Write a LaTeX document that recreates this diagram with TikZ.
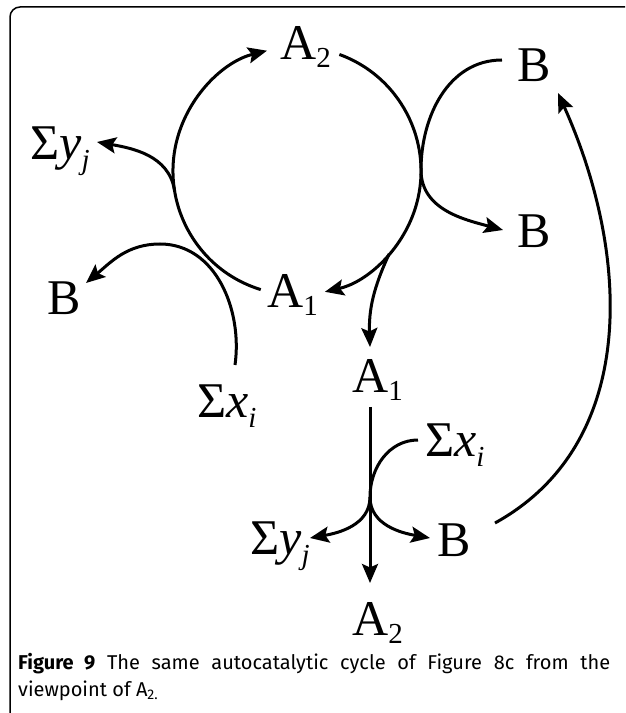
\documentclass[tikz,border=0pt]{standalone}
\usepackage{fontspec}
\setmainfont{Liberation Serif}
\newfontfamily\capfont{Fira Sans}
\usepackage{tikz}
\usetikzlibrary{arrows.meta}

\newcommand{\lo}[1]{\raisebox{-8pt}{\fontsize{29}{29}\selectfont #1}}
\newcommand{\loit}[1]{\raisebox{-10pt}{\fontsize{29}{29}\selectfont\itshape #1}}

\begin{document}
\begin{tikzpicture}[x=1pt,y=1pt,
  lbl/.style={inner sep=0pt, anchor=base west, font=\fontsize{50}{50}\selectfont},
  flow/.style={line width=3pt, -{Stealth[length=19pt,width=16pt,inset=3.5pt]}},
  plain/.style={line width=3pt}]
  \useasboundingbox (0,0) rectangle (625,713);
  \clip (0,0) rectangle (625,713);
  \draw[line width=1.5pt, rounded corners=10pt] (10,-20) rectangle (660,706);

  \node[lbl] (a2top) at (280,653) {A\lo{2}};
  \node[lbl] (btop) at (517,631) {B};
  \node[lbl] (bright) at (517,465) {B};
  \node[lbl] (syleft) at (30,553) {Σ\textit{y}\loit{j}};
  \node[lbl] (bleft) at (47,398) {B};
  \node[lbl] (a1left) at (267,405) {A\lo{1}};
  \node[lbl] (sxleft) at (197,295) {Σ\textit{x}\loit{i}};
  \node[lbl] (a1mid) at (352,320) {A\lo{1}};
  \node[lbl] (sxmid) at (425,256) {Σ\textit{x}\loit{i}};
  \node[lbl] (symid) at (250,158) {Σ\textit{y}\loit{j}};
  \node[lbl] (bmid) at (437,156) {B};
  \node[lbl] (a2bot) at (352,77) {A\lo{2}};

  \coordinate (cyc) at (297,542);
  \coordinate (join) at (370,216);

  \draw[flow] ([shift={(253:124)}]cyc) arc[start angle=253, end angle=104, radius=124];
  \draw[flow] ([shift={(70:124)}]cyc) arc[start angle=70, end angle=-77, radius=124];
  \draw[flow] ([shift={(189:124)}]cyc) to[out=99, in=-10] (97,571);
  \draw[flow] ([shift={(-42:124)}]cyc) to[out=-115, in=92] (370,366);
  \draw[flow] (235,348) to[out=82, in=0] (160,469) to[out=180, in=40] (86,430);
  \draw[flow] (502,653) to[out=180, in=90] (421,543) to[out=-90, in=165] (503,483);
  \draw[flow] (495,190) .. controls (640,270) and (630,460) .. (558,620);

  \draw[flow] (370,306) -- (370,130);
  \draw[plain] (418,273) to[out=180, in=90] (join);
  \draw[flow] (join) to[out=-90, in=10] (310,175);
  \draw[flow] (join) to[out=-90, in=170] (430,175);

  \node[anchor=north west, inner sep=0pt, text width=592pt, align=justify,
    font=\capfont\fontsize{20}{27}\selectfont] (cap) at (18,60)
    {\textbf{Figure 9} The same autocatalytic cycle of Figure 8c from the\linebreak viewpoint of A\textsubscript{2.}};
\end{tikzpicture}
\end{document}
